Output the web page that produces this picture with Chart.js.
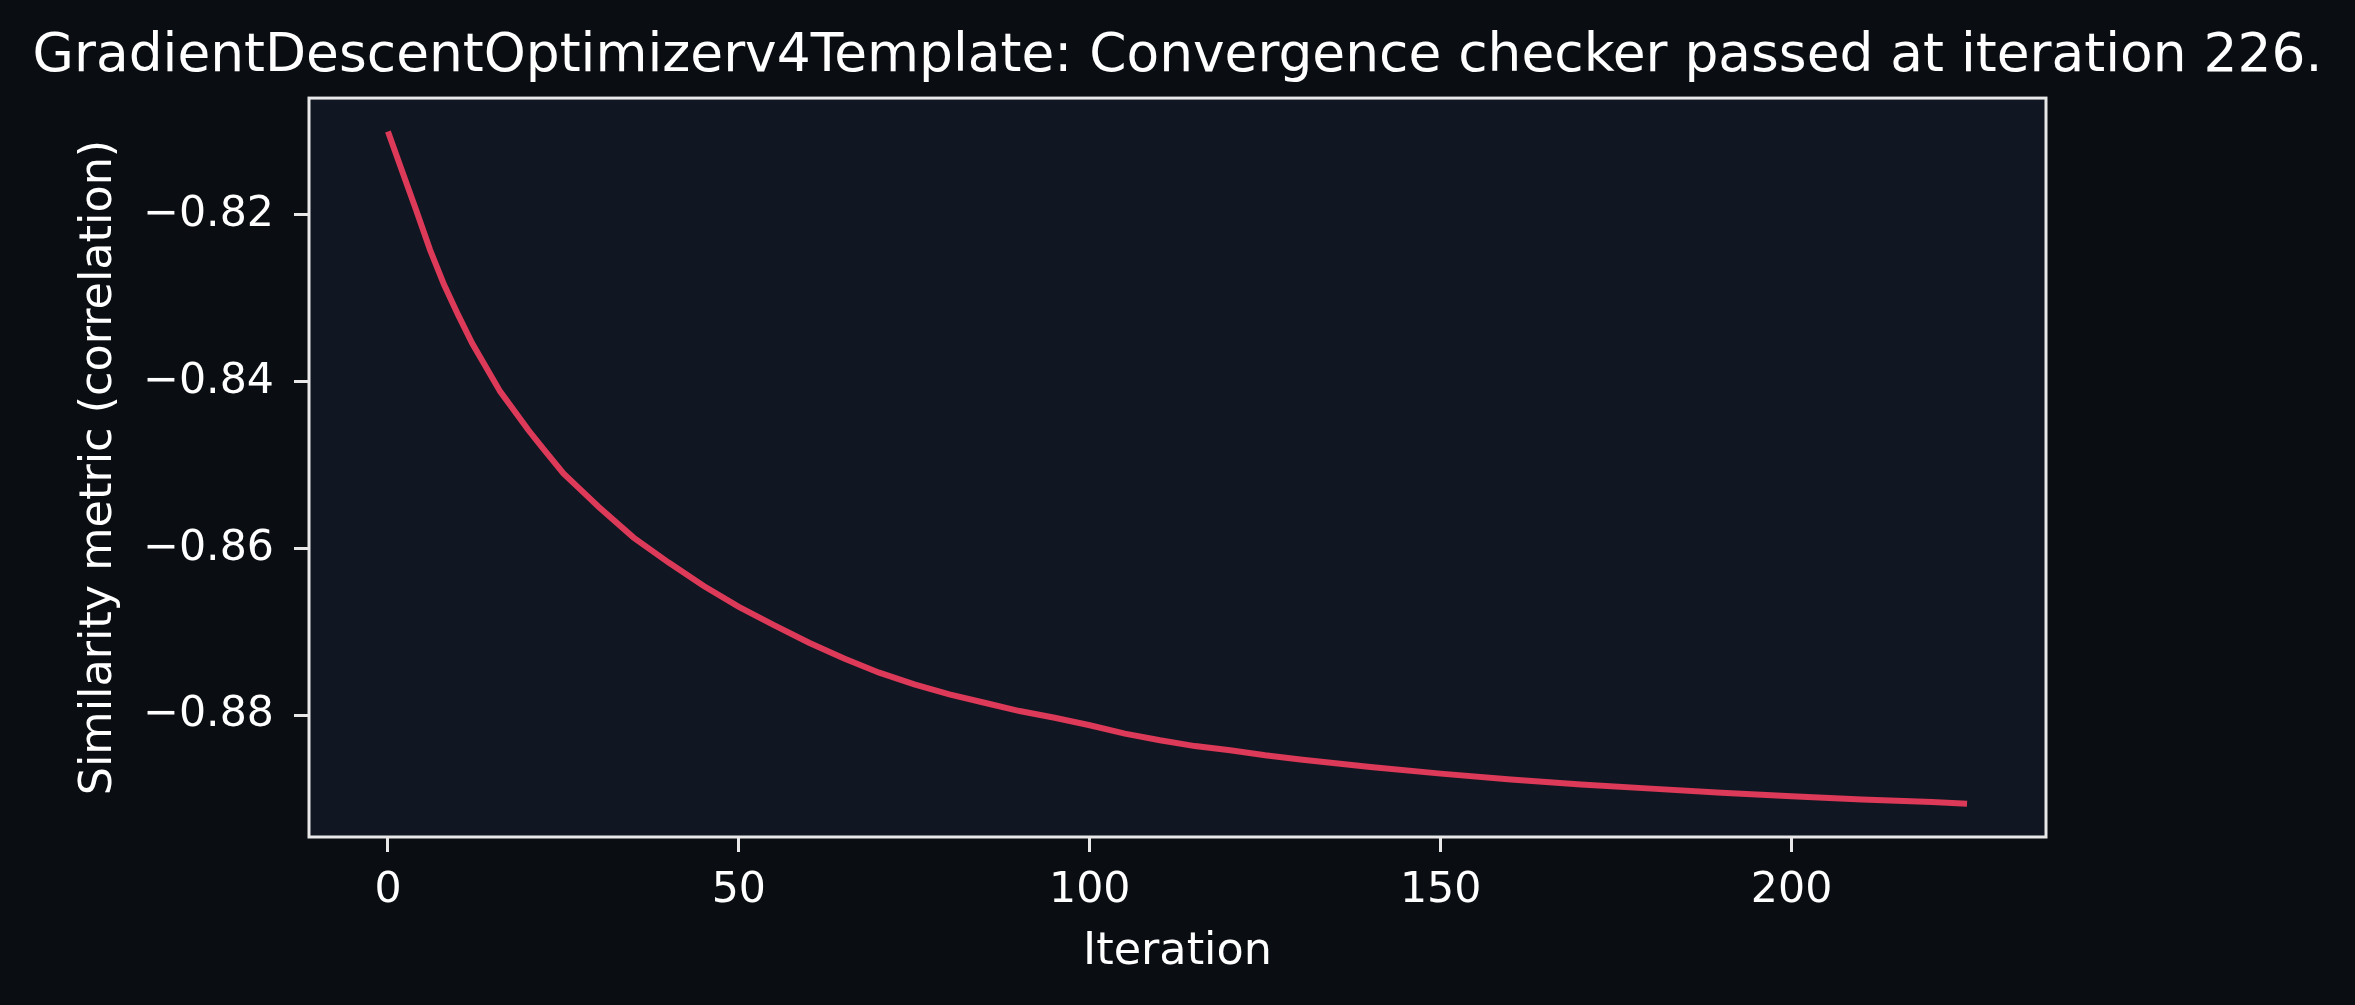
<!DOCTYPE html>
<html>
<head>
<meta charset="utf-8">
<script src="https://cdn.jsdelivr.net/npm/chart.js@4"></script>
<style>
    html, body { margin: 0; padding: 0; background: #0a0d12; }
    canvas { display: block; }
</style>
</head>
<body>
<canvas id="convergenceChart" width="2355" height="1005"></canvas>
<script>
// Values
const iterations = [0, 2, 4, 6, 8, 10, 12, 14, 16, 18, 20, 22, 25, 28, 30, 35, 40, 45, 50, 55,
    60, 65, 70, 75, 80, 85, 90, 95, 100, 105, 110, 115, 120, 125, 130, 140, 150, 160, 170,
    180, 190, 200, 210, 220, 225];
const metricValues = [-0.8100, -0.8147, -0.8194, -0.8242, -0.8284, -0.8320, -0.8354, -0.8383,
    -0.8412, -0.8435, -0.8458, -0.8479, -0.8510, -0.8534, -0.8550, -0.8587, -0.8617, -0.8645,
    -0.8670, -0.8692, -0.8713, -0.8732, -0.8749, -0.8763, -0.8775, -0.8785, -0.8795, -0.8803,
    -0.8812, -0.8822, -0.8830, -0.8837, -0.8842, -0.8848, -0.8853, -0.8862, -0.8870, -0.8877,
    -0.8883, -0.8888, -0.8893, -0.8897, -0.8901, -0.8904, -0.8906];
const xTicks = [0, 50, 100, 150, 200];
const yTicks = [-0.88, -0.86, -0.84, -0.82];

const textColor = '#ffffff';
const spineColor = '#e8e8e8';
const fontFamily = "'DejaVu Sans', sans-serif";

// fills the axes background and draws the four spines
const framePlugin = {
    id: 'frame',
    beforeDraw(chart) {
        const ctx = chart.ctx;
        const a = chart.chartArea;
        ctx.save();
        ctx.fillStyle = '#0a0d12';
        ctx.fillRect(0, 0, chart.width, chart.height);
        ctx.fillStyle = '#111722';
        ctx.fillRect(a.left, a.top, a.right - a.left, a.bottom - a.top);
        ctx.restore();
    },
    afterDatasetsDraw(chart) {
        const ctx = chart.ctx;
        const a = chart.chartArea;
        ctx.save();
        ctx.strokeStyle = spineColor;
        ctx.lineWidth = 3;
        ctx.strokeRect(a.left, a.top, a.right - a.left, a.bottom - a.top);
        ctx.restore();
    }
};

document.addEventListener('DOMContentLoaded', function() {
    const ctx = document.getElementById('convergenceChart').getContext('2d');
    new Chart(ctx, {
        type: 'line',
        data: {
            datasets: [{
                data: iterations.map((it, i) => ({ x: it, y: metricValues[i] })),
                borderColor: '#dc3a58',
                borderWidth: 6,
                pointRadius: 0,
                tension: 0,
                fill: false
            }]
        },
        options: {
            responsive: false,
            animation: false,
            devicePixelRatio: 1,
            layout: { padding: 0 },
            scales: {
                x: {
                    type: 'linear',
                    min: -11.25,
                    max: 236.25,
                    afterBuildTicks: s => { s.ticks = xTicks.map(v => ({ value: v })); },
                    afterFit: s => { s.height = 168; },
                    grid: { drawOnChartArea: false, drawTicks: true, tickLength: 15, tickWidth: 3, tickColor: spineColor },
                    border: { display: false },
                    ticks: {
                        color: textColor,
                        padding: 13,
                        maxRotation: 0,
                        font: { family: fontFamily, size: 42.7 },
                        callback: v => String(v)
                    },
                    title: {
                        display: true,
                        text: 'Iteration',
                        color: textColor,
                        font: { family: fontFamily, size: 44.5 },
                        padding: { top: 0, bottom: 26 }
                    }
                },
                y: {
                    type: 'linear',
                    position: 'left',
                    min: -0.8946,
                    max: -0.8060,
                    afterBuildTicks: s => { s.ticks = yTicks.map(v => ({ value: v })); },
                    afterFit: s => { s.width = 309; },
                    grid: { drawOnChartArea: false, drawTicks: true, tickLength: 15, tickWidth: 3, tickColor: spineColor },
                    border: { display: false },
                    ticks: {
                        color: textColor,
                        padding: 20,
                        font: { family: fontFamily, size: 42.7 },
                        callback: v => '\u2212' + Math.abs(v).toFixed(2)
                    },
                    title: {
                        display: true,
                        text: 'Similarity metric (correlation)',
                        color: textColor,
                        font: { family: fontFamily, size: 44.5 },
                        padding: { top: 73, bottom: 0 }
                    }
                },
                // empty axis that only reserves the right margin
                yRight: {
                    type: 'linear',
                    position: 'right',
                    afterFit: s => { s.width = 309; },
                    grid: { display: false },
                    border: { display: false },
                    ticks: { display: false }
                }
            },
            plugins: {
                legend: { display: false },
                tooltip: { enabled: false },
                title: {
                    display: true,
                    text: 'GradientDescentOptimizerv4Template: Convergence checker passed at iteration 226.',
                    color: textColor,
                    font: { family: fontFamily, size: 53.4, weight: 'normal' },
                    padding: { top: 25, bottom: 9 }
                }
            }
        },
        plugins: [framePlugin]
    });
});
</script>
</body>
</html>
